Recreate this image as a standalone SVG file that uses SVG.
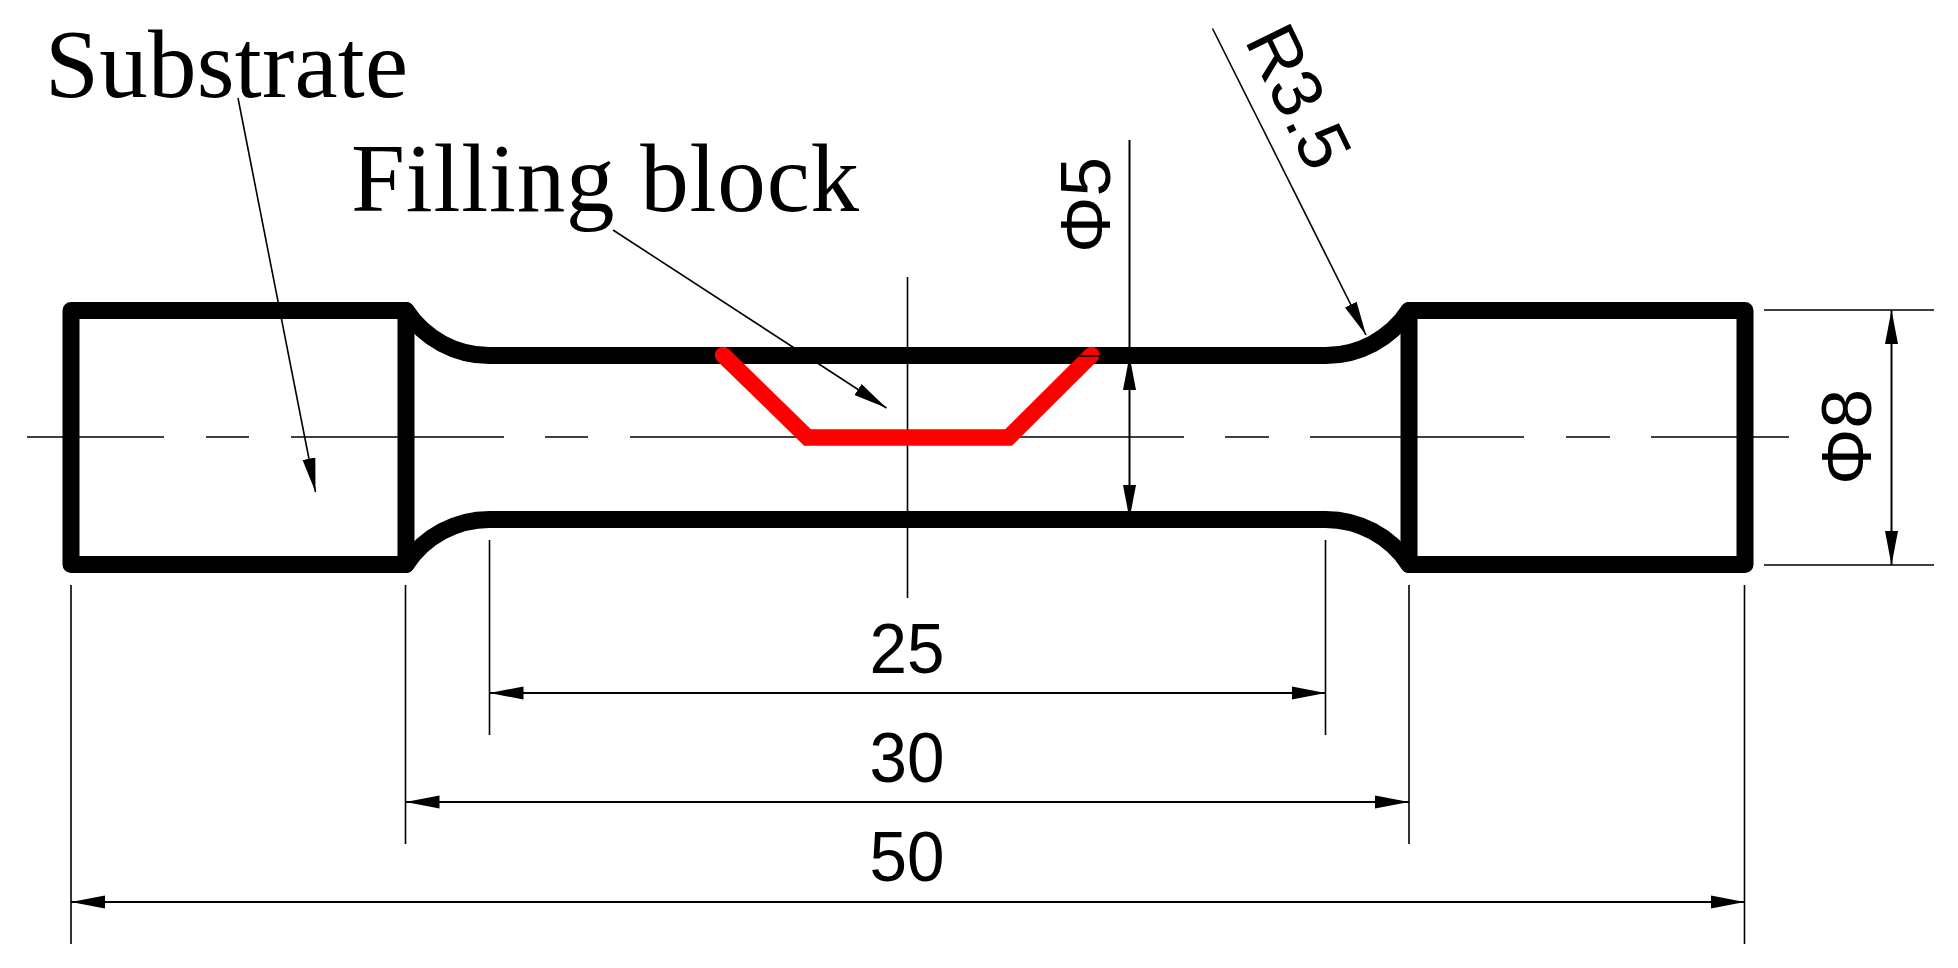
<svg xmlns="http://www.w3.org/2000/svg" width="1958" height="968" viewBox="0 0 1958 968">
<style>
.part{fill:none;stroke:#000;stroke-width:17;stroke-linejoin:round;stroke-linecap:round}
.thin{fill:none;stroke:#000;stroke-width:1.6}
.dim{fill:none;stroke:#000;stroke-width:2}
.arr{marker-end:url(#ah)}
.both{marker-start:url(#ah);marker-end:url(#ah)}
.t{font-family:"Liberation Sans",Arial,sans-serif;font-size:71px;fill:#000;text-anchor:middle}
.s{font-family:"Liberation Serif","Times New Roman",serif;font-size:97px;fill:#000}
</style>
<defs>
<marker id="ah" markerUnits="userSpaceOnUse" markerWidth="36" markerHeight="16" viewBox="0 0 36 16" refX="34" refY="8" orient="auto-start-reverse"><path d="M0 1.500L34 8L0 14.500Z" fill="#000"/></marker>
</defs>
<rect width="1958" height="968" fill="#fff"/>
<g id="centerlines" class="thin">
<path d="M27 437H164M206 437H249M291 437H504M545 437H588M630 437H1184M1225 437H1269M1310 437H1524M1566 437H1610M1651 437H1789"/>
<path d="M907.500 277V598"/>
</g>
<g id="specimen" class="part">
<rect x="71" y="310.500" width="335" height="254"/>
<rect x="1409" y="310.500" width="336" height="254"/>
<path d="M406 310.500A100 100 0 0 0 490 355.500H1325A100 100 0 0 0 1409 310.500"/>
<path d="M406 564.500A100 100 0 0 1 490 519.500H1325A100 100 0 0 1 1409 564.500"/>
</g>
<g id="filling-block">
<path d="M723 355L807.500 437.500H1008.500L1091.500 355" fill="none" stroke="#f00" stroke-width="16.500" stroke-linecap="round" stroke-linejoin="miter"/>
<path d="M1079 356H1101" stroke="#000" stroke-width="1.600"/>
</g>
<g id="connectors">
<path class="thin arr" d="M238 98L315.500 492"/>
<path class="thin arr" d="M613 230L886.500 408"/>
<path class="thin arr" d="M1212.500 28.500L1366 335"/>
<path class="dim both" d="M489.500 693H1325.500"/>
<path class="dim both" d="M405.500 802H1409"/>
<path class="dim both" d="M71 902H1744.500"/>
<path class="dim" d="M1129.500 140V356"/>
<path class="dim both" d="M1129.500 356V519"/>
<path class="dim both" d="M1891.500 310V565"/>
<path class="thin" d="M71 585V944M1744.500 585V944M405.500 585V844M1409 585V844M489.500 540V735M1325.500 540V735M1764 310H1934M1764 565H1934"/>
</g>
<g id="label-substrate"><text class="s" x="45" y="97" textLength="363">Substrate</text></g>
<g id="label-filling"><text class="s" x="351" y="211" textLength="508">Filling block</text></g>
<g id="dim-25"><text class="t" x="907" y="673" textLength="75" lengthAdjust="spacingAndGlyphs">25</text></g>
<g id="dim-30"><text class="t" x="907" y="782" textLength="75" lengthAdjust="spacingAndGlyphs">30</text></g>
<g id="dim-50"><text class="t" x="907" y="881" textLength="75" lengthAdjust="spacingAndGlyphs">50</text></g>
<g id="dim-phi5"><text class="t" transform="translate(1110 205) rotate(-90)">Φ5</text></g>
<g id="dim-phi8"><text class="t" transform="translate(1871 437) rotate(-90)">Φ8</text></g>
<g id="dim-r35"><text class="t" style="text-anchor:start" transform="translate(1244 40) rotate(64)">R3.5</text></g>
</svg>
